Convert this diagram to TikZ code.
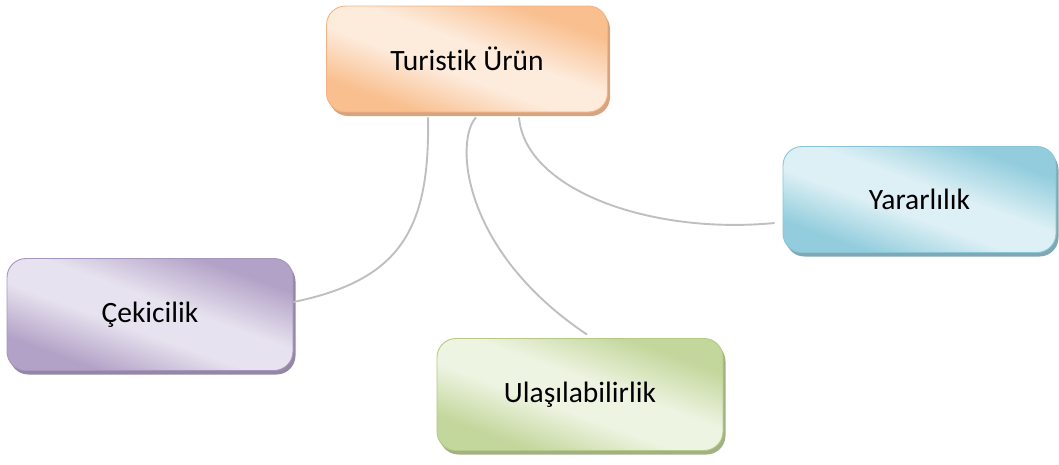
\documentclass[tikz,border=0pt]{standalone}
\usepackage{fontspec}
\setmainfont{Carlito}[Ligatures=NoCommon]
\usetikzlibrary{calc,shadows}

% box palettes: dark edge, light band, border, shadow
\definecolor{orD}{HTML}{F9BF8F}\definecolor{orL}{HTML}{FDEBDC}\definecolor{orB}{HTML}{F5B283}\definecolor{orS}{HTML}{D6A47F}
\definecolor{blD}{HTML}{93CDDD}\definecolor{blL}{HTML}{DDF0F5}\definecolor{blB}{HTML}{88C6D7}\definecolor{blS}{HTML}{7FA8B4}
\definecolor{puD}{HTML}{B3A2C7}\definecolor{puL}{HTML}{E7E2EF}\definecolor{puB}{HTML}{A695BD}\definecolor{puS}{HTML}{9487A6}
\definecolor{grD}{HTML}{C3D69B}\definecolor{grL}{HTML}{EEF4E2}\definecolor{grB}{HTML}{B4CA86}\definecolor{grS}{HTML}{A2B184}
\definecolor{linkgray}{HTML}{BFBFBF}

% polished fill: dark toward two opposite corners, a broad light band between
\colorlet{boxdark}{orD}\colorlet{boxlight}{orL}
\pgfdeclareverticalshading[boxdark,boxlight]{polish}{100bp}{%
  color(0bp)=(boxdark); color(28bp)=(boxdark); color(44bp)=(boxlight);
  color(55bp)=(boxlight); color(72bp)=(boxdark); color(100bp)=(boxdark)}

\tikzset{
  topic/.style n args={4}{
    /utils/exec={\colorlet{boxdark}{#1}\colorlet{boxlight}{#2}},
    draw=#3, line width=0.9pt, rounded corners=19pt,
    shading=polish, shading angle=-20,
    general shadow={fill=#4, shadow xshift=2.5pt, shadow yshift=-4pt},
    align=center, inner sep=0pt,
    font=\fontsize{29.5}{35}\selectfont
  },
  link/.style={draw=linkgray, line width=1.9pt}
}

\begin{document}
\begin{tikzpicture}[x=1pt,y=-1pt]
  \useasboundingbox (0,0) rectangle (1059,464);

  \node[topic={orD}{orL}{orB}{orS}, minimum width=281pt, minimum height=106pt] (t) at (467,59) {Turistik Ürün};
  \node[topic={blD}{blL}{blB}{blS}, minimum width=273pt, minimum height=106pt] (y) at (919.5,199.5) {Yararlılık};
  \node[topic={puD}{puL}{puB}{puS}, minimum width=286pt, minimum height=112pt] (c) at (150,314.5) {Çekicilik};
  \node[topic={grD}{grL}{grB}{grS}, minimum width=286pt, minimum height=112pt] (u) at (580,394.5) {Ulaşılabilirlik};

  % curved links hanging from the central box
  \draw[link] ($(t.south)+(-39,5)$) .. controls +(2,112) and +(107,-22) .. ($(c.east)+(0,-12.5)$);
  \draw[link] ($(t.south)+(9,5)$) .. controls +(-21,22) and +(-127,-85) .. ($(u.north)+(7,-3.5)$);
  \draw[link] ($(t.south)+(52,5)$) .. controls +(6,72) and +(-125,12) .. ($(y.west)+(-8,23.5)$);
\end{tikzpicture}
\end{document}
